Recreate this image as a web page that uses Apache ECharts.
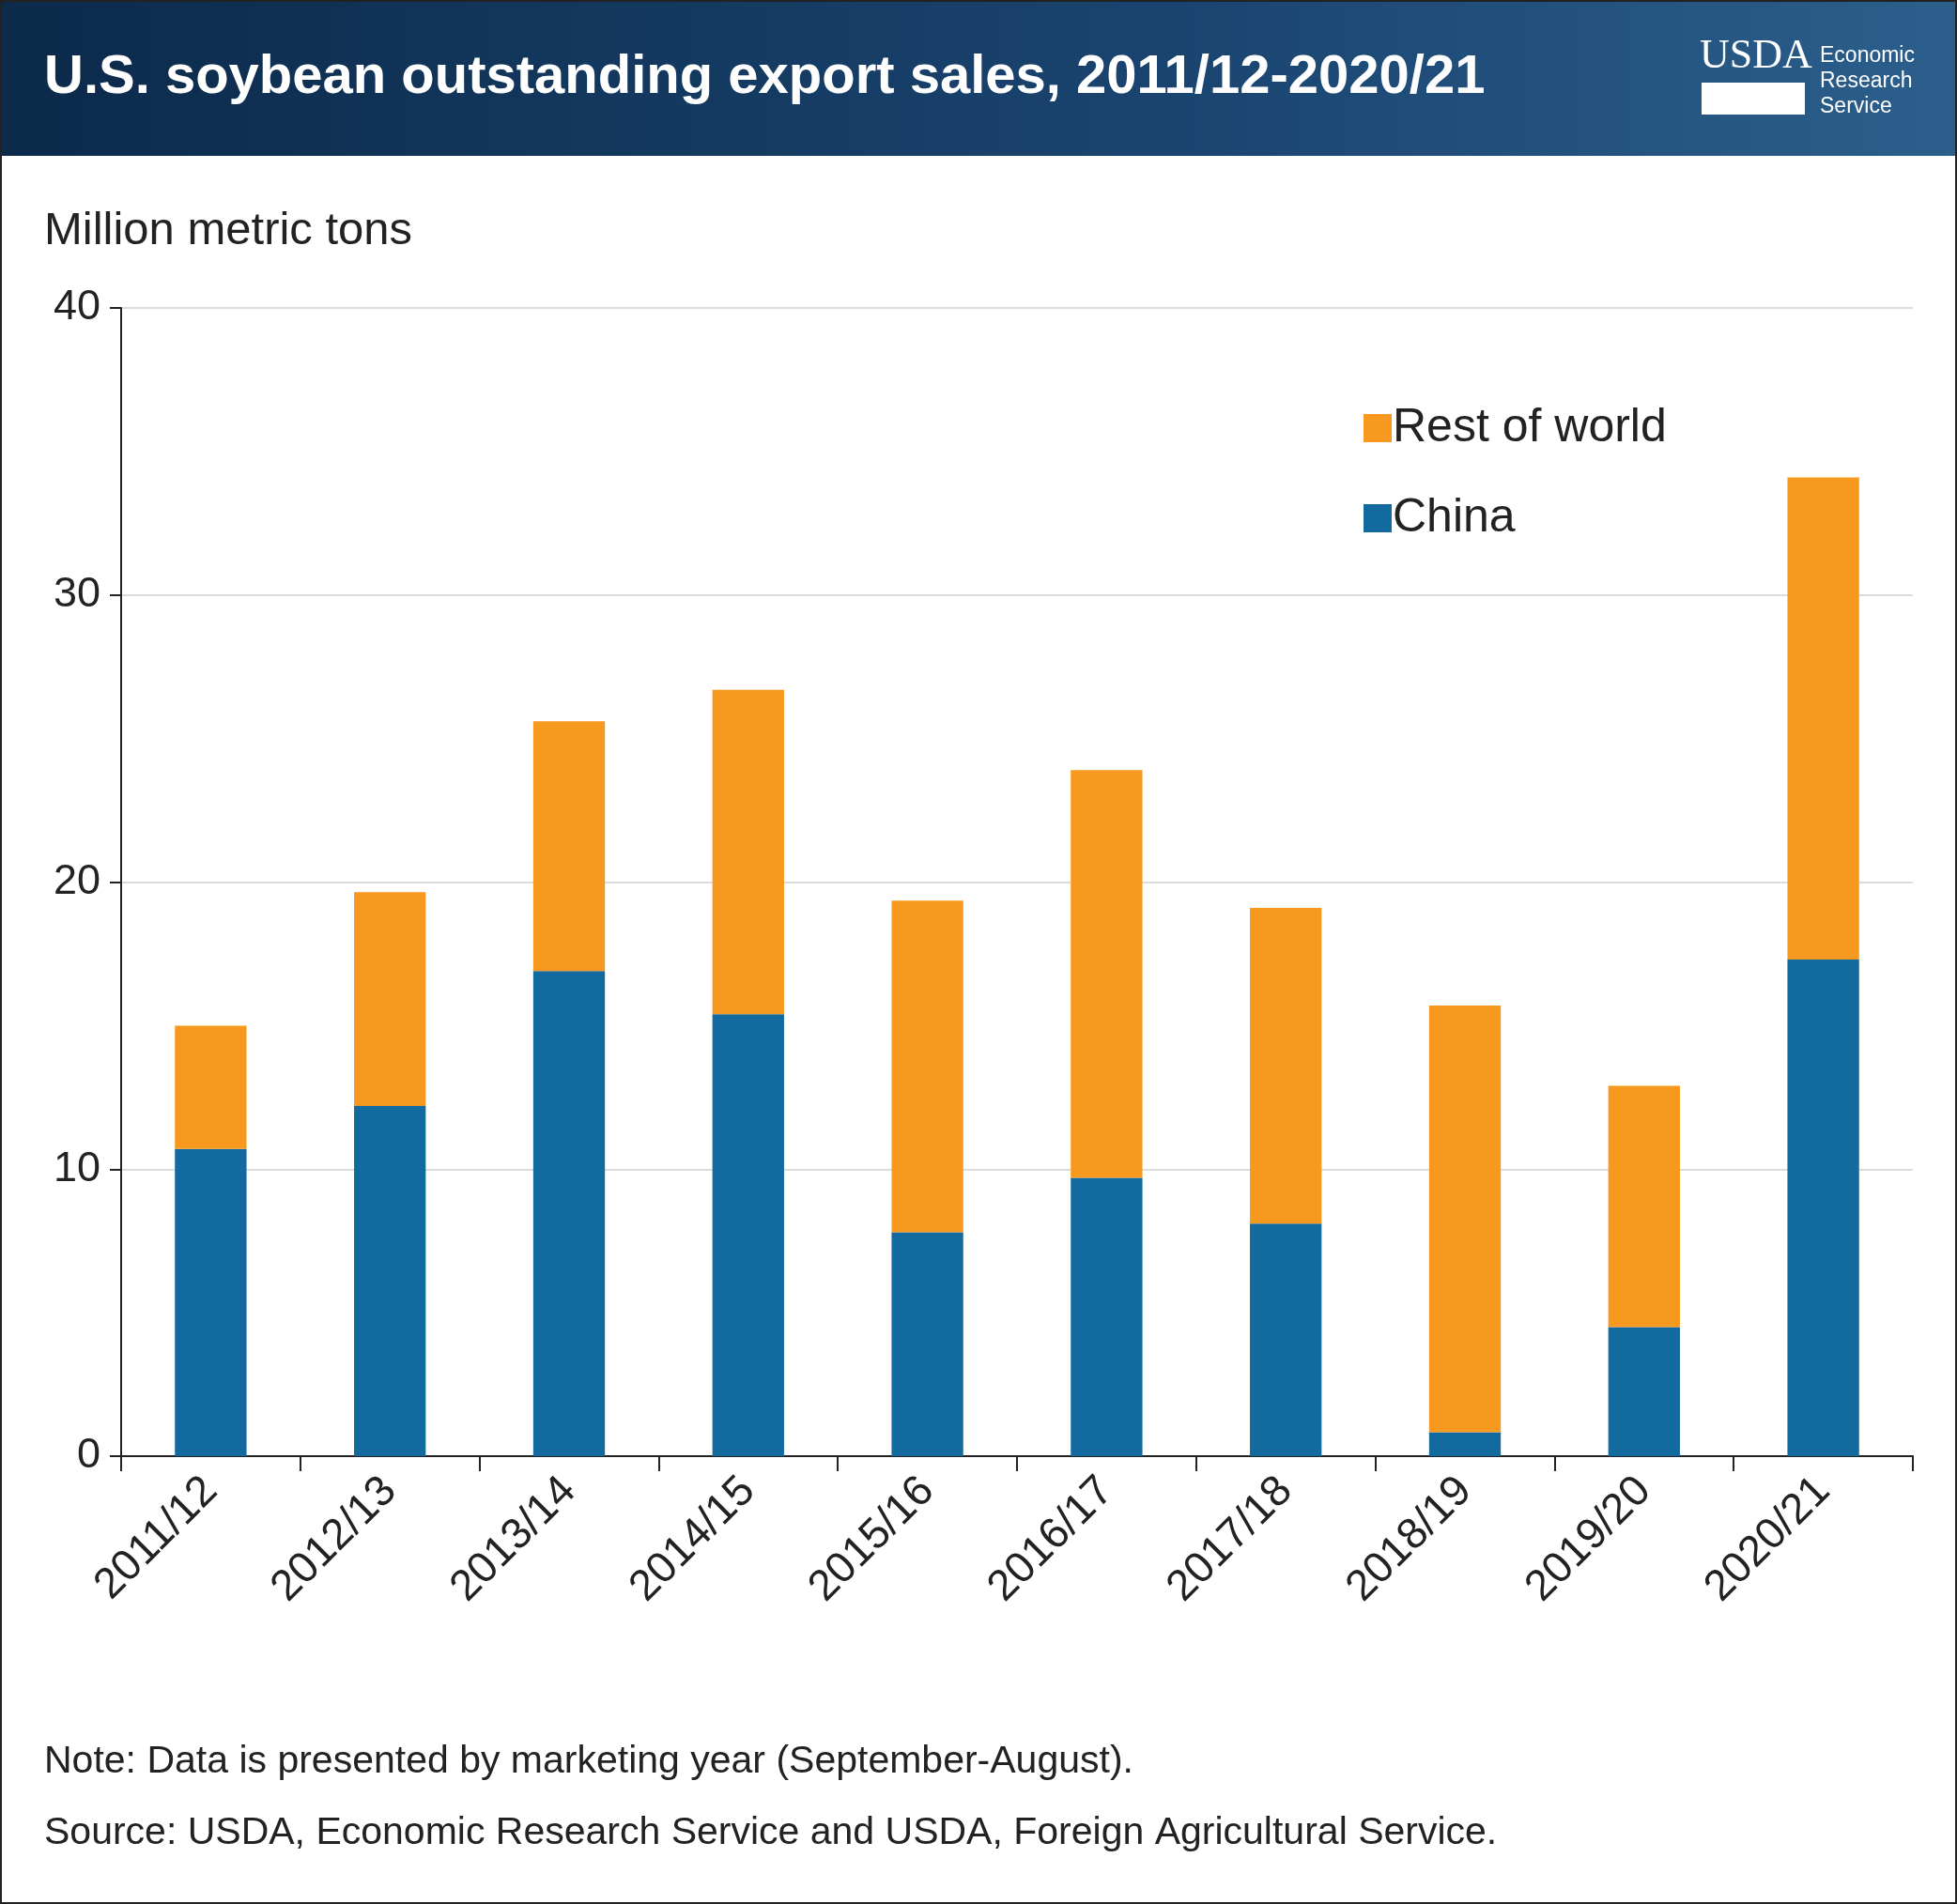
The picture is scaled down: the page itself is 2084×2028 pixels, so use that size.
<!DOCTYPE html>
<html><head><meta charset="utf-8">
<script src="https://cdn.jsdelivr.net/npm/echarts@6/dist/echarts.min.js"></script>
<style>html,body{margin:0;padding:0;background:#fff}#c{width:2084px;height:2028px}</style>
</head><body><div id="c"></div>
<script>
const categories=['2011/12','2012/13','2013/14','2014/15','2015/16','2016/17','2017/18','2018/19','2019/20','2020/21'];
const china=[10.7,12.2,16.9,15.4,7.8,9.7,8.1,0.83,4.5,17.3];
const restOfWorld=[4.3,7.45,8.7,11.3,11.55,14.2,11.0,14.87,8.4,16.8];
const yTicks=[0,10,20,30,40];
const F='Helvetica, "Liberation Sans", Arial, sans-serif';
const chart=echarts.init(document.getElementById('c'));
chart.setOption({
 animation:false,
 graphic:[
  {type:'rect',shape:{x:0,y:0,width:2084,height:166},style:{fill:new echarts.graphic.LinearGradient(0,0,1,0,[{offset:0,color:'#0c2a4a'},{offset:0.6,color:'#1a4470'},{offset:1,color:'#2c5f8c'}])}},
  {type:'text',left:47,top:54,style:{text:'U.S. soybean outstanding export sales, 2011/12-2020/21',fill:'#fff',font:'bold 58px '+F}},
  {type:'text',left:1810,top:38,style:{text:'USDA',fill:'#fff',font:'44px "Liberation Serif", serif'}},
  {type:'rect',shape:{x:1812,y:88,width:110,height:34},style:{fill:'#fff'}},
  {type:'text',left:1938,top:46,style:{text:'Economic\nResearch\nService',fill:'#fff',font:'23px '+F,lineHeight:27}},
  {type:'rect',shape:{x:1,y:1,width:2082,height:2026},style:{fill:'none',stroke:'#222',lineWidth:2}},
  {type:'text',left:47,top:222,style:{text:'Million metric tons',fill:'#222',font:'49px '+F}},
  {type:'text',left:47,top:1856,style:{text:'Note: Data is presented by marketing year (September-August).',fill:'#222',font:'41px '+F}},
  {type:'text',left:47,top:1932,style:{text:'Source: USDA, Economic Research Service and USDA, Foreign Agricultural Service.',fill:'#222',font:'41px '+F}}
 ],
 legend:{left:1447,top:426,orient:'vertical',itemGap:46,itemWidth:30,itemHeight:30,icon:'rect',
  data:['Rest of world','China'],textStyle:{fontSize:50,fontFamily:F,color:'#222',padding:[0,0,0,-4]}},
 grid:{left:129,right:47,top:328,bottom:477,containLabel:false},
 xAxis:{type:'category',data:categories,
  axisLine:{lineStyle:{color:'#222',width:2}},
  axisTick:{show:true,length:16,lineStyle:{color:'#222',width:2}},
  axisLabel:{rotate:45,fontSize:46,fontFamily:F,color:'#222',margin:30}},
 yAxis:{type:'value',min:0,max:40,interval:10,
  axisLine:{show:true,lineStyle:{color:'#222',width:2}},
  axisTick:{show:true,length:12,lineStyle:{color:'#222',width:2}},
  axisLabel:{fontSize:45,fontFamily:F,color:'#222',margin:22,formatter:v=>yTicks.includes(v)?String(v):''},
  splitLine:{lineStyle:{color:'#d0d0d0',width:1.5}}},
 series:[
  {name:'China',type:'bar',stack:'a',data:china,barWidth:'40%',itemStyle:{color:'#136a9e'}},
  {name:'Rest of world',type:'bar',stack:'a',data:restOfWorld,itemStyle:{color:'#f7991e'}}
 ]
});
</script></body></html>
